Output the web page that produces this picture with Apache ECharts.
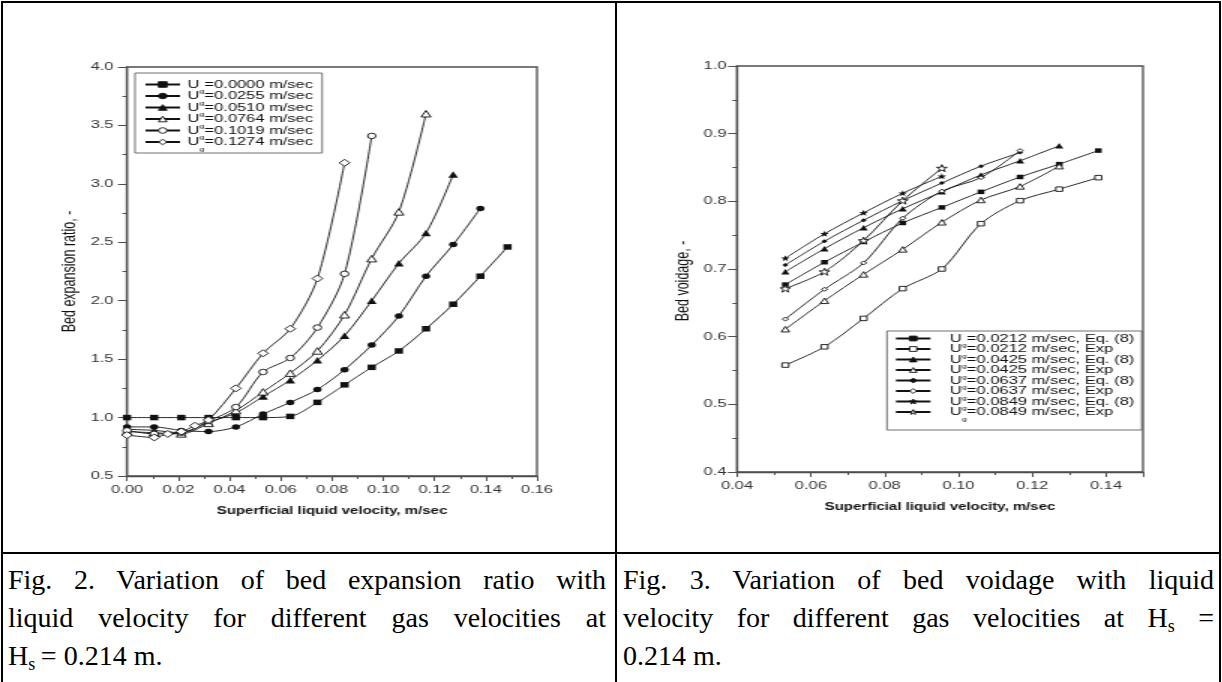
<!DOCTYPE html>
<html>
<head>
<meta charset="utf-8">
<title>Bed expansion ratio and bed voidage</title>
<script src="https://cdn.jsdelivr.net/npm/echarts@6.0.0/dist/echarts.min.js"></script>
<style>
html,body{margin:0;padding:0;background:#fff;}
#page{position:relative;width:1222px;height:682px;overflow:hidden;background:#fff;}
/* the source figures are stretched sideways, so the chart is drawn narrow and widened */
#chart{position:absolute;left:0;top:0;width:814.667px;height:552px;transform:scaleX(1.5);transform-origin:0 0;}
.ln{position:absolute;background:#000;}
.cap{position:absolute;top:561px;font-family:'Liberation Serif','Times New Roman',serif;font-size:28px;line-height:38px;color:#000;}
.cap div{white-space:nowrap;}
.cap .j{text-align:justify;text-align-last:justify;}
.cap .sb{font-size:18px;vertical-align:-5px;line-height:0;}
</style>
</head>
<body>
<div id="page">
  <div id="chart"></div>
  <div class="ln" style="left:1px;top:1px;width:1220px;height:2px"></div>
  <div class="ln" style="left:1px;top:1px;width:2px;height:681px"></div>
  <div class="ln" style="left:1219px;top:1px;width:2px;height:681px"></div>
  <div class="ln" style="left:615px;top:1px;width:2px;height:681px"></div>
  <div class="ln" style="left:1px;top:552px;width:1220px;height:2px"></div>
  <div class="cap" style="left:8px;width:598px">
    <div class="j">Fig. 2. Variation of bed expansion ratio with</div>
    <div class="j">liquid velocity for different gas velocities at</div>
    <div>H<span class="sb">s</span>&#8201;= 0.214 m.</div>
  </div>
  <div class="cap" style="left:623px;width:591px">
    <div class="j">Fig. 3. Variation of bed voidage with liquid</div>
    <div class="j">velocity for different gas velocities at H<span class="sb">s</span> =</div>
    <div>0.214 m.</div>
  </div>
</div>
<script>
(function(){
  var FONT = "'Liberation Sans', Arial, sans-serif";
  var AX = '#4d4d4d';
  var INK = '#111';
  var STAR = 'path://M0,-10L2.35,-3.24L9.51,-3.09L3.8,1.24L5.88,8.09L0,4L-5.88,8.09L-3.8,1.24L-9.51,-3.09L-2.35,-3.24Z';

  // Fig. 2: bed expansion ratio vs superficial liquid velocity
  var leftNames = ['Ug=0.0000 m/sec', 'Ug=0.0255 m/sec', 'Ug=0.0510 m/sec',
                   'Ug=0.0764 m/sec', 'Ug=0.1019 m/sec', 'Ug=0.1274 m/sec'];
  var uL = [0, 0.0106, 0.0212, 0.0318, 0.0425, 0.0531, 0.0637, 0.0743,
            0.0849, 0.0955, 0.1061, 0.1167, 0.1273, 0.1379, 0.1485];
  var ratio0000 = [1.00, 1.00, 1.00, 1.00, 1.00, 1.00, 1.01, 1.13, 1.28, 1.43, 1.57, 1.76, 1.97, 2.21, 2.46];
  var ratio0255 = [0.92, 0.92, 0.89, 0.88, 0.92, 1.03, 1.13, 1.24, 1.41, 1.62, 1.87, 2.21, 2.48, 2.79];
  var ratio0510 = [0.90, 0.89, 0.87, 0.96, 1.04, 1.18, 1.32, 1.49, 1.70, 2.00, 2.32, 2.58, 3.08];
  var ratio0764 = [0.88, 0.87, 0.86, 0.95, 1.06, 1.22, 1.38, 1.57, 1.88, 2.36, 2.76, 3.60];
  var ratio1019 = [0.89, 0.86, 0.87, 0.97, 1.09, 1.39, 1.51, 1.77, 2.23, 3.41];
  var uL1274 = [0, 0.0106, 0.0159, 0.0212, 0.0265, 0.0318, 0.0425, 0.0531, 0.0637, 0.0743, 0.0849];
  var ratio1274 = [0.85, 0.83, 0.86, 0.88, 0.93, 0.98, 1.25, 1.55, 1.76, 2.19, 3.18];

  // Fig. 3: bed voidage vs superficial liquid velocity
  var rightNames = ['Ug=0.0212 m/sec, Eq. (8)', 'Ug=0.0212 m/sec, Exp',
                    'Ug=0.0425 m/sec, Eq. (8)', 'Ug=0.0425 m/sec, Exp',
                    'Ug=0.0637 m/sec, Eq. (8)', 'Ug=0.0637 m/sec, Exp',
                    'Ug=0.0849 m/sec, Eq. (8)', 'Ug=0.0849 m/sec, Exp'];
  var uR = [0.0531, 0.0637, 0.0743, 0.0849, 0.0955, 0.1061, 0.1167, 0.1273, 0.1379];
  var eq0212  = [0.677, 0.710, 0.740, 0.768, 0.791, 0.814, 0.836, 0.855, 0.875];
  var exp0212 = [0.558, 0.585, 0.627, 0.671, 0.700, 0.767, 0.801, 0.818, 0.835];
  var eq0425  = [0.696, 0.730, 0.761, 0.789, 0.814, 0.839, 0.860, 0.882];
  var exp0425 = [0.611, 0.653, 0.692, 0.729, 0.769, 0.802, 0.822, 0.852];
  var eq0637  = [0.706, 0.741, 0.772, 0.801, 0.827, 0.852, 0.872];
  var exp0637 = [0.626, 0.670, 0.709, 0.775, 0.815, 0.835, 0.875];
  var eq0849  = [0.716, 0.752, 0.783, 0.812, 0.837];
  var exp0849 = [0.671, 0.696, 0.742, 0.801, 0.849];

  // open markers: white fill with a thin black edge (the empty* symbols force a 2px edge)
  function line(name, xs, ys, sym, size, open, idx) {
    return {
      type: 'line', name: name, xAxisIndex: idx, yAxisIndex: idx,
      data: ys.map(function(v, i){ return [xs[i], v]; }),
      smooth: 0.3, symbol: sym, symbolSize: size, showAllSymbol: true,
      lineStyle: {color: INK, width: 0.9},
      itemStyle: open
        ? {color: '#fff', borderColor: INK, borderWidth: 0.9}
        : {color: INK, borderColor: INK, borderWidth: 0},
      emphasis: {disabled: true},
      animation: false
    };
  }

  function legendText(pad) {
    return {
      fontFamily: FONT, fontSize: 11, color: INK,
      rich: {
        u: {fontFamily: FONT, fontSize: 11, color: INK, lineHeight: 20, padding: [0, 0, 0, pad]},
        s: {fontFamily: FONT, fontSize: 6, color: INK, lineHeight: 9, verticalAlign: 'bottom'},
        a: {fontFamily: FONT, fontSize: 11, color: INK, lineHeight: 20}
      }
    };
  }
  function legendFmt(n) { return '{u|U}{s|g}{a|' + n.slice(2) + '}'; }

  function xAxis(idx, min, max, title, showMax) {
    return {
      gridIndex: idx, type: 'value', min: min, max: max, interval: 0.02,
      axisLine: {show: true, onZero: false, lineStyle: {color: AX, width: 1.3}},
      axisTick: {show: true, inside: false, length: 5, lineStyle: {color: AX, width: 1}},
      minorTick: {show: true, splitNumber: 2, length: 3, lineStyle: {color: AX, width: 1}},
      splitLine: {show: false}, minorSplitLine: {show: false},
      axisLabel: {color: '#333', fontFamily: FONT, fontSize: 11, margin: 8, showMaxLabel: showMax,
        formatter: function(v){ return v.toFixed(2); }},
      name: title, nameLocation: 'middle', nameGap: 30,
      nameTextStyle: {fontFamily: FONT, fontWeight: 'bold', fontSize: 10, color: INK}
    };
  }
  function yAxis(idx, min, max, step, title, gap, pad, margin) {
    return {
      gridIndex: idx, type: 'value', min: min, max: max, interval: step,
      axisLine: {show: true, onZero: false, lineStyle: {color: AX, width: 1.3}},
      axisTick: {show: true, inside: false, length: 6, lineStyle: {color: AX, width: 1}},
      minorTick: {show: true, splitNumber: 2, length: 3, lineStyle: {color: AX, width: 1}},
      splitLine: {show: false}, minorSplitLine: {show: false},
      axisLabel: {color: '#333', fontFamily: FONT, fontSize: 11, margin: margin,
        formatter: function(v){ return v.toFixed(1); }},
      name: title, nameLocation: 'middle', nameGap: gap,
      nameTextStyle: {fontFamily: FONT, fontSize: 12.5, color: INK, padding: [0, pad, 0, 0]}
    };
  }

  function legend(names, left, top, h, gap, padding, textPad) {
    return {
      data: names, orient: 'vertical', left: left, top: top,
      itemWidth: 23, itemHeight: h, itemGap: gap, padding: padding,
      borderColor: AX, borderWidth: 0.8, backgroundColor: '#fff',
      itemStyle: {borderWidth: 0.9},
      selectedMode: false, formatter: legendFmt, textStyle: legendText(textPad)
    };
  }

  var el = document.getElementById('chart');
  var c = echarts.init(el, null, {renderer: 'canvas'});
  c.setOption({
    animation: false,
    backgroundColor: 'transparent',
    grid: [
      {left: 84.67, top: 67, width: 273.33, height: 409, show: true, borderColor: AX, borderWidth: 1.3,
       containLabel: false, outerBoundsMode: 'none'},
      {left: 491.33, top: 66, width: 270.67, height: 406, show: true, borderColor: AX, borderWidth: 1.3,
       containLabel: false, outerBoundsMode: 'none'}
    ],
    xAxis: [
      xAxis(0, 0, 0.16, 'Superficial liquid velocity, m/sec', true),
      xAxis(1, 0.04, 0.15, 'Superficial liquid velocity, m/sec', false)
    ],
    yAxis: [
      yAxis(0, 0.5, 4.0, 0.5, 'Bed expansion ratio, -', 32, 0, 9),
      yAxis(1, 0.4, 1.0, 0.1, 'Bed voidage, -', 29, 24, 7)
    ],
    legend: [
      legend(leftNames, 90, 73, 7, -4, [6, 6, 1, 6], 0),
      legend(rightNames, 591.3, 331, 6, -5, [2, 5, 8, 5], 8)
    ],
    series: [
      line(leftNames[0], uL, ratio0000, 'rect', 5.5, false, 0),
      line(leftNames[1], uL, ratio0255, 'circle', 5.5, false, 0),
      line(leftNames[2], uL, ratio0510, 'triangle', 6.5, false, 0),
      line(leftNames[3], uL, ratio0764, 'triangle', 6.5, true, 0),
      line(leftNames[4], uL, ratio1019, 'circle', 5.5, true, 0),
      line(leftNames[5], uL1274, ratio1274, 'diamond', 7, true, 0),

      line(rightNames[0], uR, eq0212, 'rect', 4.5, false, 1),
      line(rightNames[1], uR, exp0212, 'rect', 4.5, true, 1),
      line(rightNames[2], uR, eq0425, 'triangle', 5.5, false, 1),
      line(rightNames[3], uR, exp0425, 'triangle', 5.5, true, 1),
      line(rightNames[4], uR, eq0637, 'diamond', 4, false, 1),
      line(rightNames[5], uR, exp0637, 'diamond', 4, true, 1),
      line(rightNames[6], uR, eq0849, STAR, 6, false, 1),
      line(rightNames[7], uR, exp0849, STAR, 7, true, 1)
    ]
  });
  window.addEventListener('resize', function(){ c.resize(); });
})();
</script>
</body>
</html>
